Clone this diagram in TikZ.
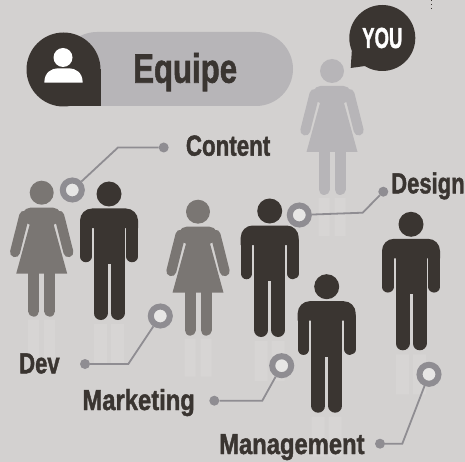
\documentclass[tikz,border=0pt]{standalone}
\usepackage{graphicx}
\usepackage{fontspec}
\setmainfont[BoldFeatures={FakeBold=1.6}]{Liberation Sans}
\usetikzlibrary{positioning}
\definecolor{bgcolor}{HTML}{D3D1D0}
\definecolor{darkfig}{HTML}{3A3531}
\definecolor{midfig}{HTML}{7A7673}
\definecolor{palefig}{HTML}{B7B5B8}
\definecolor{ringcolor}{HTML}{8F8D92}
\definecolor{shadowcolor}{HTML}{D7D5D4}
\newcommand{\cond}[2]{\scalebox{#1}[1]{#2}}

\begin{document}
\begin{tikzpicture}[
    x=1pt, y=-1pt,
    label/.style={inner sep=0pt, anchor=base west, text=darkfig, font=\fontsize{29}{29}\selectfont\bfseries},
    ring/.style={circle, draw=ringcolor, line width=6pt, fill=white!45!bgcolor, minimum size=19pt, inner sep=0pt},
    dot/.style={circle, fill=ringcolor, minimum size=10pt, inner sep=0pt},
    wire/.style={draw=ringcolor, line width=1.8pt},
    pics/man/.style={code={
        \fill[shadowcolor] (-15,130) rectangle (-2,170) (2,130) rectangle (15,170);
        \fill[#1] (0,0) circle (12.5);
        \fill[#1, rounded corners=12pt] (-29,34) -- (-29,14.5) -- (29,14.5) [sharp corners] -- (29,34) -- cycle;
        \fill[#1] (-15.5,30) rectangle (15.5,70);
        \draw[#1, line width=11.5pt, line cap=round] (-23.2,30) -- (-23.2,62.5) (23.2,30) -- (23.2,62.5);
        \draw[#1, line width=14pt, line cap=round] (-8.5,60) -- (-8.5,119) (8.5,60) -- (8.5,119);
    }},
    pics/woman/.style={code={
        \fill[shadowcolor] (-13.5,127) rectangle (-2.5,165) (2.5,127) rectangle (13.5,165);
        \fill[#1] (0,0) circle (12);
        \fill[#1, rounded corners=5pt] (-22,27) -- (-16.5,15) -- (16.5,15) [sharp corners] -- (22,27) -- (12,32) -- (25.5,81) -- (-25.5,81) -- (-12,32) -- cycle;
        \draw[#1, line width=10pt, line cap=round] (-17.5,23) -- (-26.7,59.5) (17.5,23) -- (26.7,59.5);
        \draw[#1, line width=11pt, line cap=round] (-8,78) -- (-8,118.5) (8,78) -- (8,118.5);
    }}
]
    \useasboundingbox[fill=bgcolor] (0,0) rectangle (465,462);

    % Title
    \fill[palefig, rounded corners=37pt] (60,32) rectangle (293,106);
    \fill[darkfig] (63.5,69.5) circle (37);
    \fill[darkfig] (63.5,69.5) rectangle (100.5,106);
    \fill[white] (63,57.5) circle (9.5);
    \fill[white] (44.3,82.7) .. controls (44.3,72) and (52,68.3) .. (58,68.3) -- (69,68.3) .. controls (75,68.3) and (82.7,72) .. (82.7,82.7) -- cycle;
    \node[label, font=\fontsize{41}{41}\selectfont\bfseries] (equipe) at (133,82.7) {\cond{0.76}{Equipe}};

    % Figures
    \pic at (332,71) {woman=palefig};
    \pic at (41.7,192.7) {woman=midfig};
    \pic at (198,211.7) {woman=midfig};
    \pic at (109,194) {man=darkfig};
    \pic at (269.7,211) {man=darkfig};
    \pic at (411,224.3) {man=darkfig};
    \pic at (326.7,286.7) {man=darkfig};

    % Speech bubble
    \fill[darkfig] (352,48) -- (350.7,68) -- (372,65) -- cycle;
    \node[circle, fill=darkfig, minimum size=66pt, inner sep=0pt, text=white, font=\fontsize{29}{29}\selectfont\bfseries] (you) at (382.3,38) {\cond{0.64}{YOU}};

    % Labels
    \node[label] (content) at (185.7,155.7) {\cond{0.77}{Content}};
    \node[label] (design) at (391,193.3) {\cond{0.76}{Design}};
    \node[label] (dev) at (19,373.3) {\cond{0.76}{Dev}};
    \node[label] (marketing) at (82.3,410) {\cond{0.82}{Marketing}};
    \node[label] (management) at (219,454) {\cond{0.82}{Management}};

    % Rings and dots
    \node[ring] (contentring) at (72.3,190) {};
    \node[ring] (designring) at (299.3,215) {};
    \node[ring] (devring) at (160.3,316) {};
    \node[ring] (marketingring) at (281.7,365.7) {};
    \node[ring] (managementring) at (429,374.3) {};
    \node[dot] (contentdot) at (163.7,147.5) {};
    \node[dot] (designdot) at (383.3,191.7) {};
    \node[dot] (devdot) at (85,364) {};
    \node[dot] (marketingdot) at (214.3,400.7) {};
    \node[dot] (managementdot) at (380,443.7) {};
    \coordinate (contentbend) at (118,147.5);
    \coordinate (designbend) at (362.7,212.7);
    \coordinate (devbend) at (128.3,364);
    \coordinate (marketingbend) at (262.3,400.7);
    \coordinate (managementbend) at (402.3,443.7);

    % Connectors
    \draw[wire] (contentdot) -- (contentbend) -- (contentring);
    \draw[wire] (designdot) -- (designbend) -- (designring);
    \draw[wire] (devdot) -- (devbend) -- (devring);
    \draw[wire] (marketingdot) -- (marketingbend) -- (marketingring);
    \draw[wire] (managementdot) -- (managementbend) -- (managementring);

    % Stray mark at the top edge
    \coordinate (marktop) at (431,0);
    \coordinate (markend) at (431,10);
    \draw[darkfig, line width=0.7pt, dash pattern=on 1.5pt off 2.5pt] (marktop) -- (markend);
\end{tikzpicture}
\end{document}
